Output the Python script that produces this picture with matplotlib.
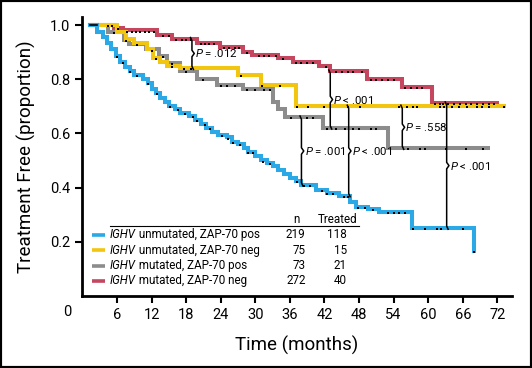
import numpy as np
import matplotlib
matplotlib.use("Agg")
import matplotlib.pyplot as plt
from matplotlib.patches import Rectangle

plt.rcParams['font.family'] = ['Roboto', 'DejaVu Sans']
plt.rcParams['mathtext.fontset'] = 'custom'
plt.rcParams['mathtext.rm'] = 'Roboto'
plt.rcParams['mathtext.it'] = 'Roboto:italic'

# start of follow-up (months)
start = 1.3

# IGHV unmutated, ZAP-70 pos
blue_t = [2.5, 3.5, 4.3, 5.0, 5.8, 6.6, 7.4, 8.2, 9.0, 10.5, 11.3, 12.0, 12.8, 13.5,
          14.3, 15.0, 16.0, 17.0, 18.5, 19.5, 20.5, 21.5, 22.5, 23.5, 25.0, 26.0, 27.0,
          28.0, 28.8, 30.0, 31.0, 32.0, 33.0, 34.0, 35.0, 36.0, 37.0, 38.0, 40.5, 42.5,
          44.5, 46.4, 47.5, 49.5, 51.5, 57.1, 68.0]
blue_s = [0.975, 0.955, 0.935, 0.91, 0.885, 0.865, 0.845, 0.83, 0.815, 0.80, 0.785, 0.765,
          0.75, 0.73, 0.715, 0.70, 0.69, 0.675, 0.665, 0.65, 0.635, 0.62, 0.605, 0.595,
          0.585, 0.57, 0.56, 0.545, 0.53, 0.515, 0.50, 0.49, 0.48, 0.465, 0.45, 0.435,
          0.425, 0.41, 0.39, 0.38, 0.37, 0.345, 0.33, 0.32, 0.31, 0.25, 0.166]
blue_end = 68.0
blue_cens = [6.0, 7.0, 8.3, 9.5, 11.4, 13.0, 15.2, 16.6, 17.8, 19.2, 19.9, 21.3, 22.2,
             24.3, 25.3, 26.1, 27.4, 28.8, 29.6, 31.4, 32.6, 37.3, 38.5, 39.5, 41.5,
             42.5, 43.5, 45.3, 46.0, 47.8, 49.0, 50.5, 53.0, 54.0, 55.0, 56.0, 57.3,
             59.5, 61.5, 62.3, 66.0, 68.0]

# IGHV unmutated, ZAP-70 neg
yellow_t = [6.0, 7.5, 9.0, 11.2, 12.3, 13.5, 14.6, 17.0, 27.0, 31.0, 37.0]
yellow_s = [0.975, 0.95, 0.935, 0.91, 0.88, 0.865, 0.85, 0.84, 0.815, 0.78, 0.70]
yellow_end = 73.2
yellow_cens = [12.8, 15.5, 17.6, 18.8, 27.5, 31.2, 34.3, 37.2, 39.1, 42.0, 46.0, 48.1,
               55.0, 56.4, 57.3, 58.0, 62.0, 62.8, 64.2, 65.4, 66.8, 68.4, 69.4, 70.6, 73.2]

# IGHV mutated, ZAP-70 pos
gray_t = [4.5, 7.2, 8.0, 11.0, 13.2, 14.6, 16.9, 19.9, 23.3, 27.9, 33.1, 34.0, 35.1,
          41.7, 53.0]
gray_s = [0.975, 0.945, 0.93, 0.91, 0.885, 0.86, 0.83, 0.80, 0.78, 0.765, 0.715, 0.69,
          0.66, 0.62, 0.545]
gray_end = 70.3
gray_cens = [5.5, 7.6, 9.5, 12.0, 14.0, 15.5, 18.0, 21.0, 24.0, 25.0, 26.5, 28.5, 30.0,
             31.5, 32.5, 36.2, 38.9, 40.0, 42.5, 44.0, 45.5, 47.0, 48.0, 50.0, 51.0,
             56.5, 58.5, 59.5, 63.0, 66.5, 69.5]

# IGHV mutated, ZAP-70 neg
red_t = [5.5, 7.0, 13.0, 15.5, 19.8, 23.9, 27.9, 29.5, 34.0, 36.5, 41.0, 43.0, 49.3,
         55.4, 60.7]
red_s = [0.99, 0.98, 0.965, 0.95, 0.935, 0.92, 0.90, 0.89, 0.88, 0.865, 0.85, 0.83,
         0.80, 0.77, 0.712]
red_end = 72.0
red_cens = [4.5, 5.2, 6.2, 7.8, 8.6, 9.3, 10.0, 10.8, 11.6, 12.4, 14.0, 15.0, 16.2,
            17.2, 18.0, 18.8, 20.5, 21.3, 22.0, 22.8, 24.5, 25.5, 26.5, 27.2, 28.5,
            30.6, 31.5, 32.4, 33.6, 34.8, 37.0, 38.0, 39.0, 40.0, 42.2, 44.0, 45.0,
            46.0, 47.0, 48.5, 50.0, 51.0, 52.0, 53.0, 54.0, 56.0, 57.0, 58.0, 59.0,
            61.2, 62.0, 62.5, 63.5, 64.5, 65.5, 66.5, 67.5, 68.5, 69.5, 70.5, 71.5]

labels = ['unmutated, ZAP-70 pos', 'unmutated, ZAP-70 neg',
          'mutated, ZAP-70 pos', 'mutated, ZAP-70 neg']
n_pts = [219, 75, 73, 272]
n_treated = [118, 15, 21, 40]
colors = ['#2aa9e6', '#f2c511', '#8c8c8c', '#c4475f']

# (time, upper group, lower group, text)
p_values = [(19.0, 3, 1, '$P$ = .012'),
            (43.0, 3, 2, '$P$ < .001'),
            (38.0, 2, 0, '$P$ = .001'),
            (46.2, 1, 0, '$P$ < .001'),
            (55.5, 1, 2, '$P$ = .558'),
            (63.2, 3, 0, '$P$ < .001')]

x_ticks = [6, 12, 18, 24, 30, 36, 42, 48, 54, 60, 66, 72]
y_ticks = [0.2, 0.4, 0.6, 0.8, 1.0]

curves = [(blue_t, blue_s, blue_end, blue_cens),
          (yellow_t, yellow_s, yellow_end, yellow_cens),
          (gray_t, gray_s, gray_end, gray_cens),
          (red_t, red_s, red_end, red_cens)]


def surv_at(times, surv, t):
    idx = np.searchsorted(np.array(times), t, side='right')
    vals = np.concatenate([[1.0], surv])
    return vals[idx]


fig = plt.figure(figsize=(5.32, 3.68), dpi=100)
ax = fig.add_axes([0.155, 0.196, 0.807, 0.758])

# draw order: red, gray, yellow, blue
for i in [3, 2, 1, 0]:
    t, s, end, cens = curves[i]
    xs = [start] + t + [end]
    ys = [1.0] + s + [s[-1]]
    ax.step(xs, ys, where='post', color=colors[i], lw=2.9, solid_joinstyle='miter',
            zorder=2 + (3 - i) * 0.1)
for i in [3, 2, 1, 0]:
    t, s, end, cens = curves[i]
    ax.plot(cens, surv_at(t, s, np.array(cens)) - 0.004, 's', color='black', ms=1.7,
            mew=0, zorder=4)
ax.plot([start, 2.5], [1.0, 1.0], color='black', lw=1.2, zorder=5)

# P-value braces
for t, a, b, txt in p_values:
    top = surv_at(curves[a][0], curves[a][1], t)
    bot = surv_at(curves[b][0], curves[b][1], t)
    mid = (top + bot) / 2
    bx = [t - 0.25, t, t, t + 0.4, t, t, t + 0.25]
    by = [top + 0.004, top - 0.008, mid + 0.012, mid, mid - 0.012, bot + 0.008, bot - 0.004]
    ax.plot(bx, by, color='black', lw=1.1, zorder=6)
    ax.text(t + 0.55, mid, txt, fontsize=8.2, va='center', ha='left', zorder=6)

ax.set_xlim(0, 74.5)
ax.set_ylim(0, 1.03)
ax.set_xticks(x_ticks)
ax.set_yticks(y_ticks)
ax.set_yticklabels(['%.1f' % v for v in y_ticks])
ax.tick_params(direction='out', length=5, width=1.5, labelsize=10.5, pad=4)
for side in ['top', 'right']:
    ax.spines[side].set_visible(False)
for side in ['left', 'bottom']:
    ax.spines[side].set_linewidth(2)
ax.text(-2.6, -0.058, '0', fontsize=10.5, ha='center', va='center', clip_on=False)
ax.set_xlabel('Time (months)', fontsize=13.5, labelpad=10)
ax.set_ylabel('Treatment Free (proportion)', fontsize=13.5, labelpad=10)

# legend table
tr = ax.transAxes
row_y = [0.219, 0.163, 0.108, 0.054]
fs = 8.4
for i in range(4):
    ax.plot([0.022, 0.052], [row_y[i], row_y[i]], color=colors[i], lw=2.6, transform=tr,
            solid_capstyle='butt', zorder=7)
    gene = ax.text(0.064, row_y[i], 'IGHV', transform=tr, fontsize=fs, style='italic',
                   va='center', ha='left')
    ax.annotate(' ' + labels[i], xy=(1, 0.5), xycoords=gene, fontsize=fs,
                va='center', ha='left')
    ax.text(0.520, row_y[i], str(n_pts[i]), transform=tr, fontsize=fs, va='center', ha='right')
    ax.text(0.616, row_y[i], str(n_treated[i]), transform=tr, fontsize=fs, va='center',
            ha='right')
ax.text(0.499, 0.272, 'n', transform=tr, fontsize=fs, va='center', ha='center')
ax.text(0.594, 0.272, 'Treated', transform=tr, fontsize=fs, va='center', ha='center')
ax.plot([0.064, 0.643], [0.252, 0.252], color='black', lw=0.8, transform=tr)

fig.patches.append(Rectangle((0, 0), 1, 1, transform=fig.transFigure, fill=False,
                             edgecolor='black', lw=3))

fig.savefig('out.png', dpi=100)
